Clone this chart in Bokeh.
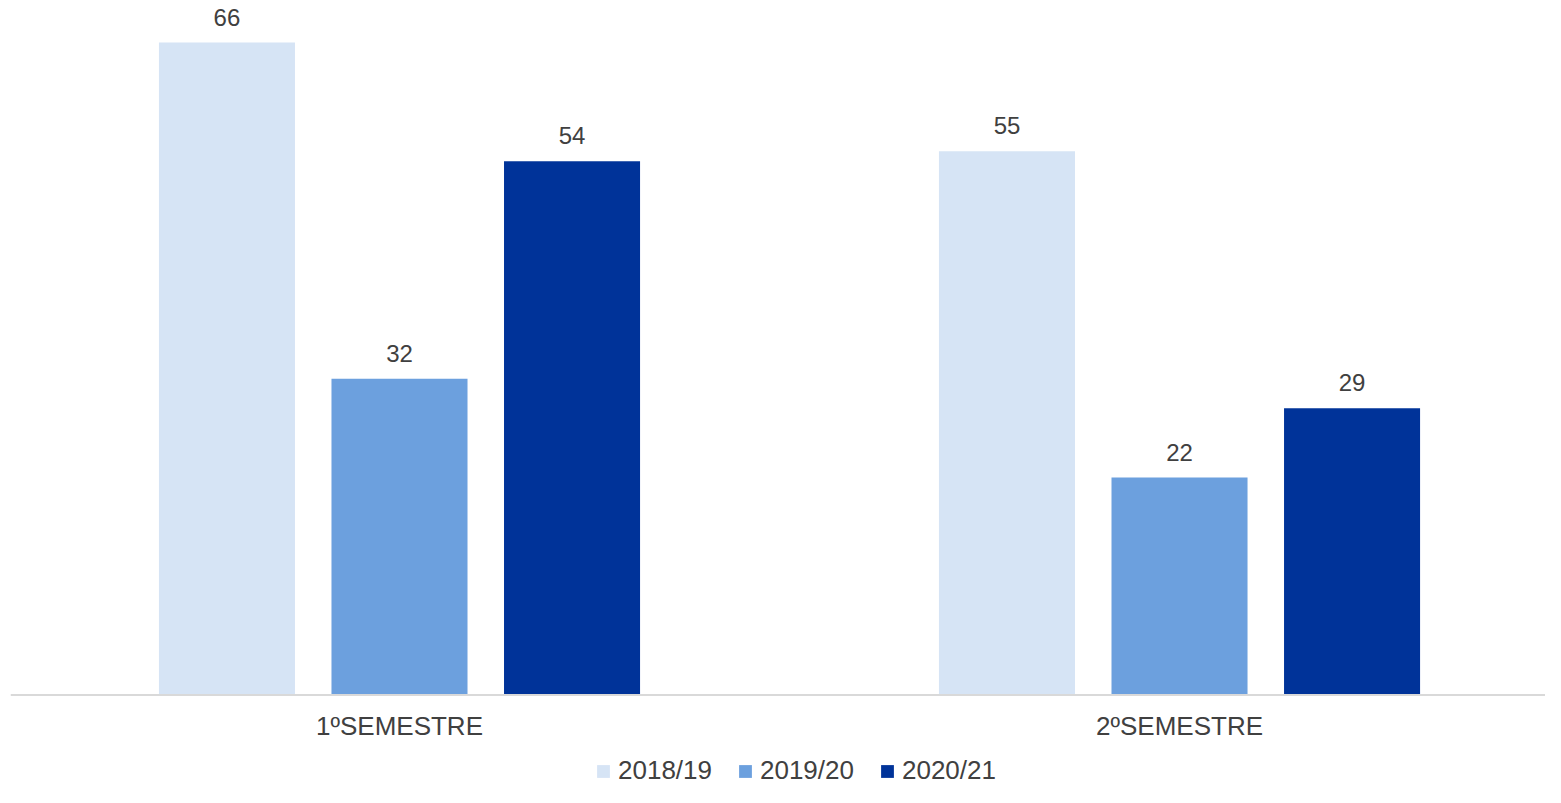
from bokeh.plotting import figure
from bokeh.models import ColumnDataSource, Range1d, Legend, LegendItem, Span
from bokeh.transform import dodge
from bokeh.core.properties import value
from bokeh.embed import file_html
from bokeh.resources import INLINE

categories = ["1ºSEMESTRE", "2ºSEMESTRE"]
series_names = ["2018/19", "2019/20", "2020/21"]
values_2018 = [66, 55]
values_2019 = [32, 22]
values_2020 = [54, 29]
colors = ["#D6E4F5", "#6CA0DE", "#003399"]

FONT = "Liberation Sans"
TXT = "#404040"

xs = list(range(len(categories)))
src = ColumnDataSource(data=dict(
    x=xs, cat=categories, zero=[0] * len(categories),
    v2018=values_2018, v2019=values_2019, v2020=values_2020,
    l2018=[str(v) for v in values_2018],
    l2019=[str(v) for v in values_2019],
    l2020=[str(v) for v in values_2020],
))

p = figure(width=1545, height=787, output_backend="svg", toolbar_location=None,
           x_range=Range1d(-0.4987, 1.4692), y_range=Range1d(-9.357, 70.25),
           min_border_left=10, min_border_right=0, min_border_top=0, min_border_bottom=0)
p.outline_line_color = None
p.grid.visible = False
p.xaxis.visible = False
p.yaxis.visible = False

# baseline (category axis line)
p.add_layout(Span(location=0, dimension="width", line_color="#D9D9D9", line_width=2))

offsets = [-0.2212, 0.0, 0.2212]
width = 0.1744
keys = ["2018", "2019", "2020"]
items = []
for off, k, c, name in zip(offsets, keys, colors, series_names):
    r = p.vbar(x=dodge("x", off), top="v" + k, width=width, bottom=0, source=src,
               fill_color=c, line_color=None)
    p.text(x=dodge("x", off), y="v" + k, text="l" + k, source=src,
           text_align="center", text_baseline="bottom", y_offset=-17,
           text_font=value(FONT), text_font_size="24px", text_color=TXT)
    items.append(LegendItem(label=name, renderers=[r]))

# category labels
p.text(x="x", y="zero", text="cat", source=src, text_align="center",
       text_baseline="middle", y_offset=31,
       text_font=value(FONT), text_font_size="26px", text_color=TXT)

legend = Legend(items=items, orientation="horizontal", location=(585, 1),
                glyph_width=16, glyph_height=16, label_standoff=7, spacing=25,
                padding=0, margin=0, border_line_color=None, background_fill_alpha=0,
                label_text_font=FONT, label_text_font_size="26px", label_text_color=TXT)
p.add_layout(legend, "center")

open("out.html", "w").write(file_html(p, INLINE))
